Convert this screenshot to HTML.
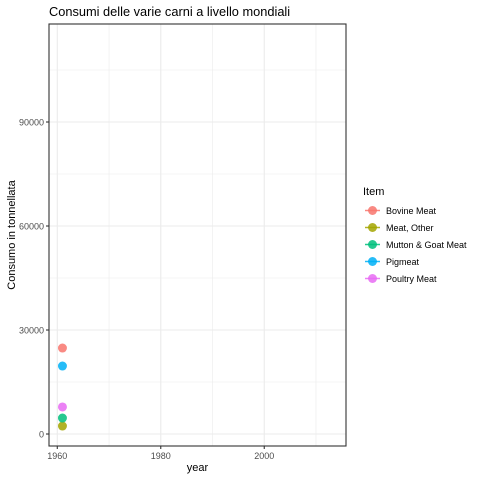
<!DOCTYPE html>
<html><head><meta charset="utf-8"><style>
body{margin:0;background:#fff;font-family:"Liberation Sans",sans-serif;}
svg text{font-family:"Liberation Sans",sans-serif;}
</style></head><body>
<svg id="chart" width="480" height="480" xmlns="http://www.w3.org/2000/svg">
<rect width="480" height="480" fill="#fff"/>
<text x="49" y="16" font-size="12.8" fill="#000">Consumi delle varie carni a livello mondiali</text>
<g id="grid"></g>
<g id="marks"></g>
<rect x="49" y="24" width="297" height="422" fill="none" stroke="#333" stroke-width="1.1"/>
<g id="axes"></g>
<text x="197.5" y="471" font-size="11" text-anchor="middle">year</text>
<text transform="translate(15,235) rotate(-90)" font-size="11" text-anchor="middle">Consumo in tonnellata</text>
<g id="legend"></g>
</svg>
<script>
const items = ["Bovine Meat","Meat, Other","Mutton & Goat Meat","Pigmeat","Poultry Meat"];
const years = [1961,1961,1961,1961,1961];
const values = [24800,2300,4600,19600,7800];
const colors = ["#F8766D","#A3A500","#00BF7D","#00B0F6","#E76BF3"];
const xTicks = [1960,1980,2000];
const xMinor = [1970,1990,2010];
const yTicks = [0,30000,60000,90000];
const yMinor = [15000,45000,75000,105000];
const NS="http://www.w3.org/2000/svg";
const X0=49,X1=346,Y0=446,Y1=24;
const xd=[1958.4,2015.8], yd=[-3460,118270];
function sx(v){return X0+(v-xd[0])/(xd[1]-xd[0])*(X1-X0);}
function sy(v){return Y0-(v-yd[0])/(yd[1]-yd[0])*(Y0-Y1);}
function mk(tag,attrs,parent){const e=document.createElementNS(NS,tag);for(const k in attrs)e.setAttribute(k,attrs[k]);parent.appendChild(e);return e;}
const grid=document.getElementById('grid'),axes=document.getElementById('axes'),marks=document.getElementById('marks'),legend=document.getElementById('legend');
yMinor.forEach(v=>{const l=mk('line',{x1:X0,x2:X1,y1:sy(v),y2:sy(v),stroke:'#ebebeb','stroke-width':0.6},grid);

});
xMinor.forEach(v=>{const l=mk('line',{x1:sx(v),x2:sx(v),y1:Y1,y2:Y0,stroke:'#ebebeb','stroke-width':0.6},grid);

});
yTicks.forEach(v=>{const y=sy(v);
const g=mk('line',{x1:X0,x2:X1,y1:y,y2:y,stroke:'#ebebeb','stroke-width':1.1},grid);


const t=mk('line',{x1:X0-3,x2:X0,y1:y,y2:y,stroke:'#333','stroke-width':1.1},axes);


const tx=mk('text',{x:X0-5,y:y+3.5,'font-size':9,fill:'#4d4d4d','text-anchor':'end'},axes);tx.textContent=v;

});
xTicks.forEach(v=>{const x=sx(v);
const g=mk('line',{x1:x,x2:x,y1:Y1,y2:Y0,stroke:'#ebebeb','stroke-width':1.1},grid);


const t=mk('line',{x1:x,x2:x,y1:Y0,y2:Y0+3,stroke:'#333','stroke-width':1.1},axes);


const tx=mk('text',{x:x,y:Y0+13,'font-size':9,fill:'#4d4d4d','text-anchor':'middle'},axes);tx.textContent=v;

});
values.forEach((v,i)=>{const c=mk('circle',{cx:sx(years[i]),cy:sy(v),r:4.5,fill:colors[i],'fill-opacity':0.85},marks);

});
const lt=mk('text',{x:363,y:195,'font-size':11,fill:'#000'},legend);lt.textContent='Item';


items.forEach((it,i)=>{const y=210.5+i*17;
const g=mk('g',{},legend);


mk('line',{x1:365,x2:380,y1:y,y2:y,stroke:colors[i],'stroke-width':1.5,'stroke-opacity':0.85},g);
mk('circle',{cx:372.5,cy:y,r:4.5,fill:colors[i],'fill-opacity':0.85},g);
const t=mk('text',{x:386,y:y+3.5,'font-size':9,fill:'#000'},g);t.textContent=it;});
</script>
</body></html>
